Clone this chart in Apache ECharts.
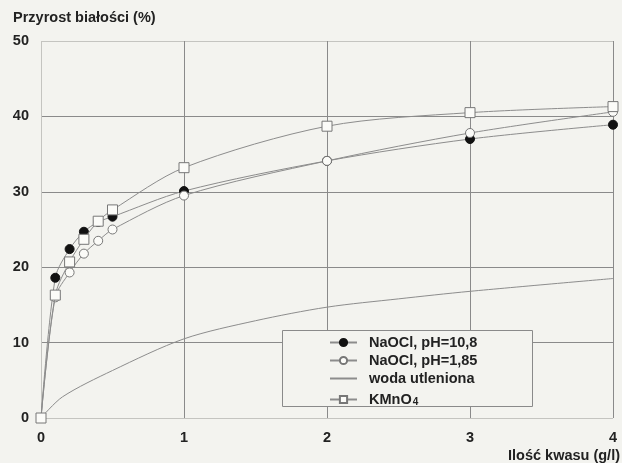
<!DOCTYPE html>
<html><head><meta charset="utf-8">
<script src="https://cdn.jsdelivr.net/npm/echarts@6/dist/echarts.min.js"></script>
<style>html,body{margin:0;padding:0;background:#f3f3ef}#c{width:622px;height:463px}</style>
</head><body><div id="c"></div>
<script>
const xTicks = [0, 1, 2, 3, 4];
const yTicks = [0, 10, 20, 30, 40, 50];
const naoclHighX = [0, 0.1, 0.2, 0.3, 0.4, 0.5, 1, 2, 3, 4];
const naoclHighY = [0, 18.6, 22.4, 24.7, 26.0, 26.7, 30.1, 34.1, 37.0, 38.9];
const naoclLowX = [0, 0.1, 0.2, 0.3, 0.4, 0.5, 1, 2, 3, 4];
const naoclLowY = [0, 16.0, 19.3, 21.8, 23.5, 25.0, 29.5, 34.1, 37.8, 40.6];
const wodaX = [0, 0.15, 0.5, 1, 1.5, 2, 2.5, 3, 4];
const wodaY = [0, 2.8, 6.3, 10.5, 12.9, 14.7, 15.8, 16.8, 18.5];
const kmnoX = [0, 0.1, 0.2, 0.3, 0.4, 0.5, 1, 2, 3, 4];
const kmnoY = [0, 16.3, 20.7, 23.7, 26.1, 27.6, 33.2, 38.7, 40.5, 41.3];
const names = ['NaOCl, pH=10,8', 'NaOCl, pH=1,85', 'woda utleniona', 'KMnO4'];

const pair = (xs, ys) => xs.map((x, i) => [x, ys[i]]);
const BG = '#f3f3ef';
const FONT = 'Liberation Sans';
const chart = echarts.init(document.getElementById('c'));
const lineCol = '#8c8c8c';
const FS = 14.5;
chart.setOption({
  backgroundColor: BG,
  animation: false,
  grid: { left: 41, right: 9, top: 41, bottom: 45 },
  xAxis: {
    type: 'value', min: 0, max: 4, interval: 1,
    axisLine: { show: false }, axisTick: { show: false },
    axisLabel: { margin: 12, fontFamily: FONT, fontWeight: 'bold', fontSize: FS, color: '#222',
      formatter: v => xTicks.includes(v) ? String(v) : '' },
    splitLine: { show: true, lineStyle: { color: ['#c4c4c0', '#8a8a8a', '#8a8a8a', '#8a8a8a', '#8a8a8a'], width: 1 } }
  },
  yAxis: {
    type: 'value', min: 0, max: 50, interval: 10,
    axisLine: { show: false }, axisTick: { show: false },
    axisLabel: { margin: 12, fontFamily: FONT, fontWeight: 'bold', fontSize: FS, color: '#222',
      formatter: v => yTicks.includes(v) ? String(v) : '' },
    splitLine: { show: true, lineStyle: { color: ['#c4c4c0', '#8a8a8a', '#8a8a8a', '#8a8a8a', '#8a8a8a', '#c4c4c0'], width: 1 } }
  },
  graphic: [
    { type: 'rect', z: 3, shape: { x: 282.5, y: 330.5, width: 250, height: 76 },
      style: { fill: BG, stroke: '#8a8a8a', lineWidth: 1 } },
    { type: 'text', left: 13, top: 10, style: { text: 'Przyrost białości (%)', font: 'bold 14.5px "Liberation Sans"', fill: '#222' } },
    { type: 'text', right: 2, top: 448, style: { text: 'Ilość kwasu (g/l)', font: 'bold 14.5px "Liberation Sans"', fill: '#222' } }
  ],
  legend: {
    orient: 'vertical', left: 329, top: 335, padding: 0, itemWidth: 27, itemHeight: 9, itemGap: 3,
    data: [
      { name: names[0] },
      { name: names[1] },
      { name: names[2], itemStyle: { color: 'rgba(0,0,0,0)', borderColor: 'rgba(0,0,0,0)', borderWidth: 0 } },
      { name: names[3] }
    ],
    textStyle: { fontFamily: FONT, fontWeight: 'bold', fontSize: FS, color: '#222', padding: [0, 0, 0, 7], lineHeight: 15,
      rich: { sub: { fontFamily: FONT, fontWeight: 'bold', fontSize: 10, color: '#222', verticalAlign: 'bottom', lineHeight: 7, padding: [8, 0, 0, 1] },
              n: { fontFamily: FONT, fontWeight: 'bold', fontSize: FS, color: '#222', lineHeight: 15 } } },
    formatter: n => n === 'KMnO4' ? '{n|KMnO}{sub|4}' : n
  },
  series: [
    { name: names[0], type: 'line', smooth: 0.3, data: pair(naoclHighX, naoclHighY), z: 3,
      symbol: 'circle', symbolSize: 9, showAllSymbol: true,
      lineStyle: { color: lineCol, width: 1 }, itemStyle: { color: '#111', borderColor: '#111', borderWidth: 1 } },
    { name: names[1], type: 'line', smooth: 0.3, data: pair(naoclLowX, naoclLowY), z: 4,
      symbol: 'circle', symbolSize: 9, showAllSymbol: true,
      lineStyle: { color: lineCol, width: 1 }, itemStyle: { color: '#fbfbf8', borderColor: '#777', borderWidth: 1 } },
    { name: names[2], type: 'line', smooth: 0.3, data: pair(wodaX, wodaY), z: 2,
      symbol: 'none', lineStyle: { color: lineCol, width: 1 }, itemStyle: { color: lineCol } },
    { name: names[3], type: 'line', smooth: 0.3, data: pair(kmnoX, kmnoY), z: 5,
      symbol: 'rect', symbolSize: 10, showAllSymbol: true,
      lineStyle: { color: lineCol, width: 1 }, itemStyle: { color: '#fbfbf8', borderColor: '#777', borderWidth: 1 } }
  ]
});
</script></body></html>
